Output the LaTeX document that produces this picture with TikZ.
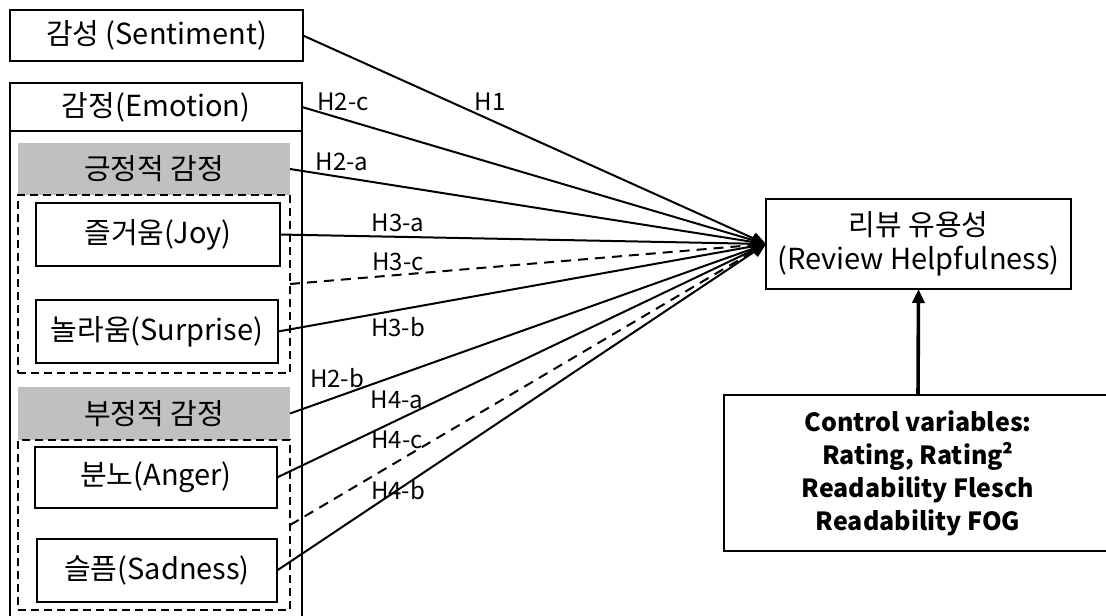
\documentclass[tikz,border=0pt]{standalone}
\usepackage{fontspec}
\setmainfont{Noto Sans CJK KR}
\usepackage{tikz}
\usetikzlibrary{arrows.meta, calc, positioning}
\definecolor{boxgray}{RGB}{192,192,192}

\begin{document}
\begin{tikzpicture}[x=0.5pt, y=-0.5pt,% pixel grid of the picture
         > = {Triangle[length=7pt,width=6pt]}, % defined in "arrows.meta
box/.style = {draw, line width=1.3pt, inner sep=0pt, outer sep=0pt,
              align=center, font=\fontsize{14.5}{17}\selectfont},
grp/.style = {draw, dashed, line width=1.1pt, dash pattern=on 4pt off 2.5pt,
              inner sep=0pt, outer sep=0pt},
head/.style = {fill=boxgray, inner sep=0pt, outer sep=0pt,
              font=\fontsize{14.5}{17}\selectfont},
hyp/.style = {inner sep=0pt, font=\fontsize{12}{14}\selectfont},
link/.style = {->, line width=1pt},
dlink/.style = {->, line width=1pt, dash pattern=on 5pt off 3.5pt}
                        ]
	\useasboundingbox (0,0) rectangle (1106,615);

	% left column
	\node[box, minimum width=146.5pt, minimum height=25.5pt] (senti) at (156.5,35.5) {감성 (Sentiment)};
	\node[box, minimum width=146pt, minimum height=24pt] (emo) at (156,107) {감정(Emotion)};
	\draw[line width=1.3pt] (emo.south west) -- (10,640) (emo.south east) -- (302,640);

	\node[head, minimum width=136pt, minimum height=26pt] (posh) at (154,169) {긍정적 감정};
	\node[grp, minimum width=136pt, minimum height=89pt] (posg) at (154,284) {};
	\node[box, minimum width=122pt, minimum height=31.5pt] (joy) at (158,234.5) {즐거움(Joy)};
	\node[box, minimum width=121pt, minimum height=31.5pt] (surp) at (157,331.5) {놀라움(Surprise)};

	\node[head, minimum width=136pt, minimum height=26.5pt] (negh) at (154,413.5) {부정적 감정};
	\node[grp, minimum width=136pt, minimum height=85pt] (negg) at (154,525) {};
	\node[box, minimum width=121pt, minimum height=30.5pt] (anger) at (156,477.5) {분노(Anger)};
	\node[box, minimum width=120pt, minimum height=31.5pt] (sad) at (157,570.5) {슬픔(Sadness)};

	% right column
	\node[box, minimum width=152.5pt, minimum height=45pt] (rev) at (918.5,244) {리뷰 유용성\\(Review Helpfulness)};
	\node[box, minimum width=194pt, minimum height=78pt,
	      font=\fontsize{12.5}{16.5}\selectfont\bfseries] (ctrl) at (918,473)
	      {Control variables:\\Rating, Rating²\\Readability Flesch\\Readability FOG};

	% hypotheses
	\draw[link] (senti.east) -- (rev.west);
	\draw[link] (emo.east)   -- (rev.west);
	\draw[link] (posh.east)  -- (rev.west);
	\draw[link] (joy.east)   -- (rev.west);
	\draw[dlink] (posg.east) -- (rev.west);
	\draw[link] (surp.east)  -- (rev.west);
	\draw[link] (negh.east)  -- (rev.west);
	\draw[link] (anger.east) -- (rev.west);
	\draw[dlink] (negg.east) -- (rev.west);
	\draw[link] (sad.east)   -- (rev.west);
	\draw[->, line width=1.8pt] (ctrl.north) -- (rev.south);

	\node[hyp] (h1)  at (490,102) {H1};
	\node[hyp] (h2c) at (343,102) {H2-c};
	\node[hyp] (h2a) at (342,162) {H2-a};
	\node[hyp] (h3a) at (398,223) {H3-a};
	\node[hyp] (h3c) at (398,262) {H3-c};
	\node[hyp] (h3b) at (398,327) {H3-b};
	\node[hyp] (h2b) at (337,378) {H2-b};
	\node[hyp] (h4a) at (397,400) {H4-a};
	\node[hyp] (h4c) at (397,440) {H4-c};
	\node[hyp] (h4b) at (398,490) {H4-b};
\end{tikzpicture}
\end{document}
